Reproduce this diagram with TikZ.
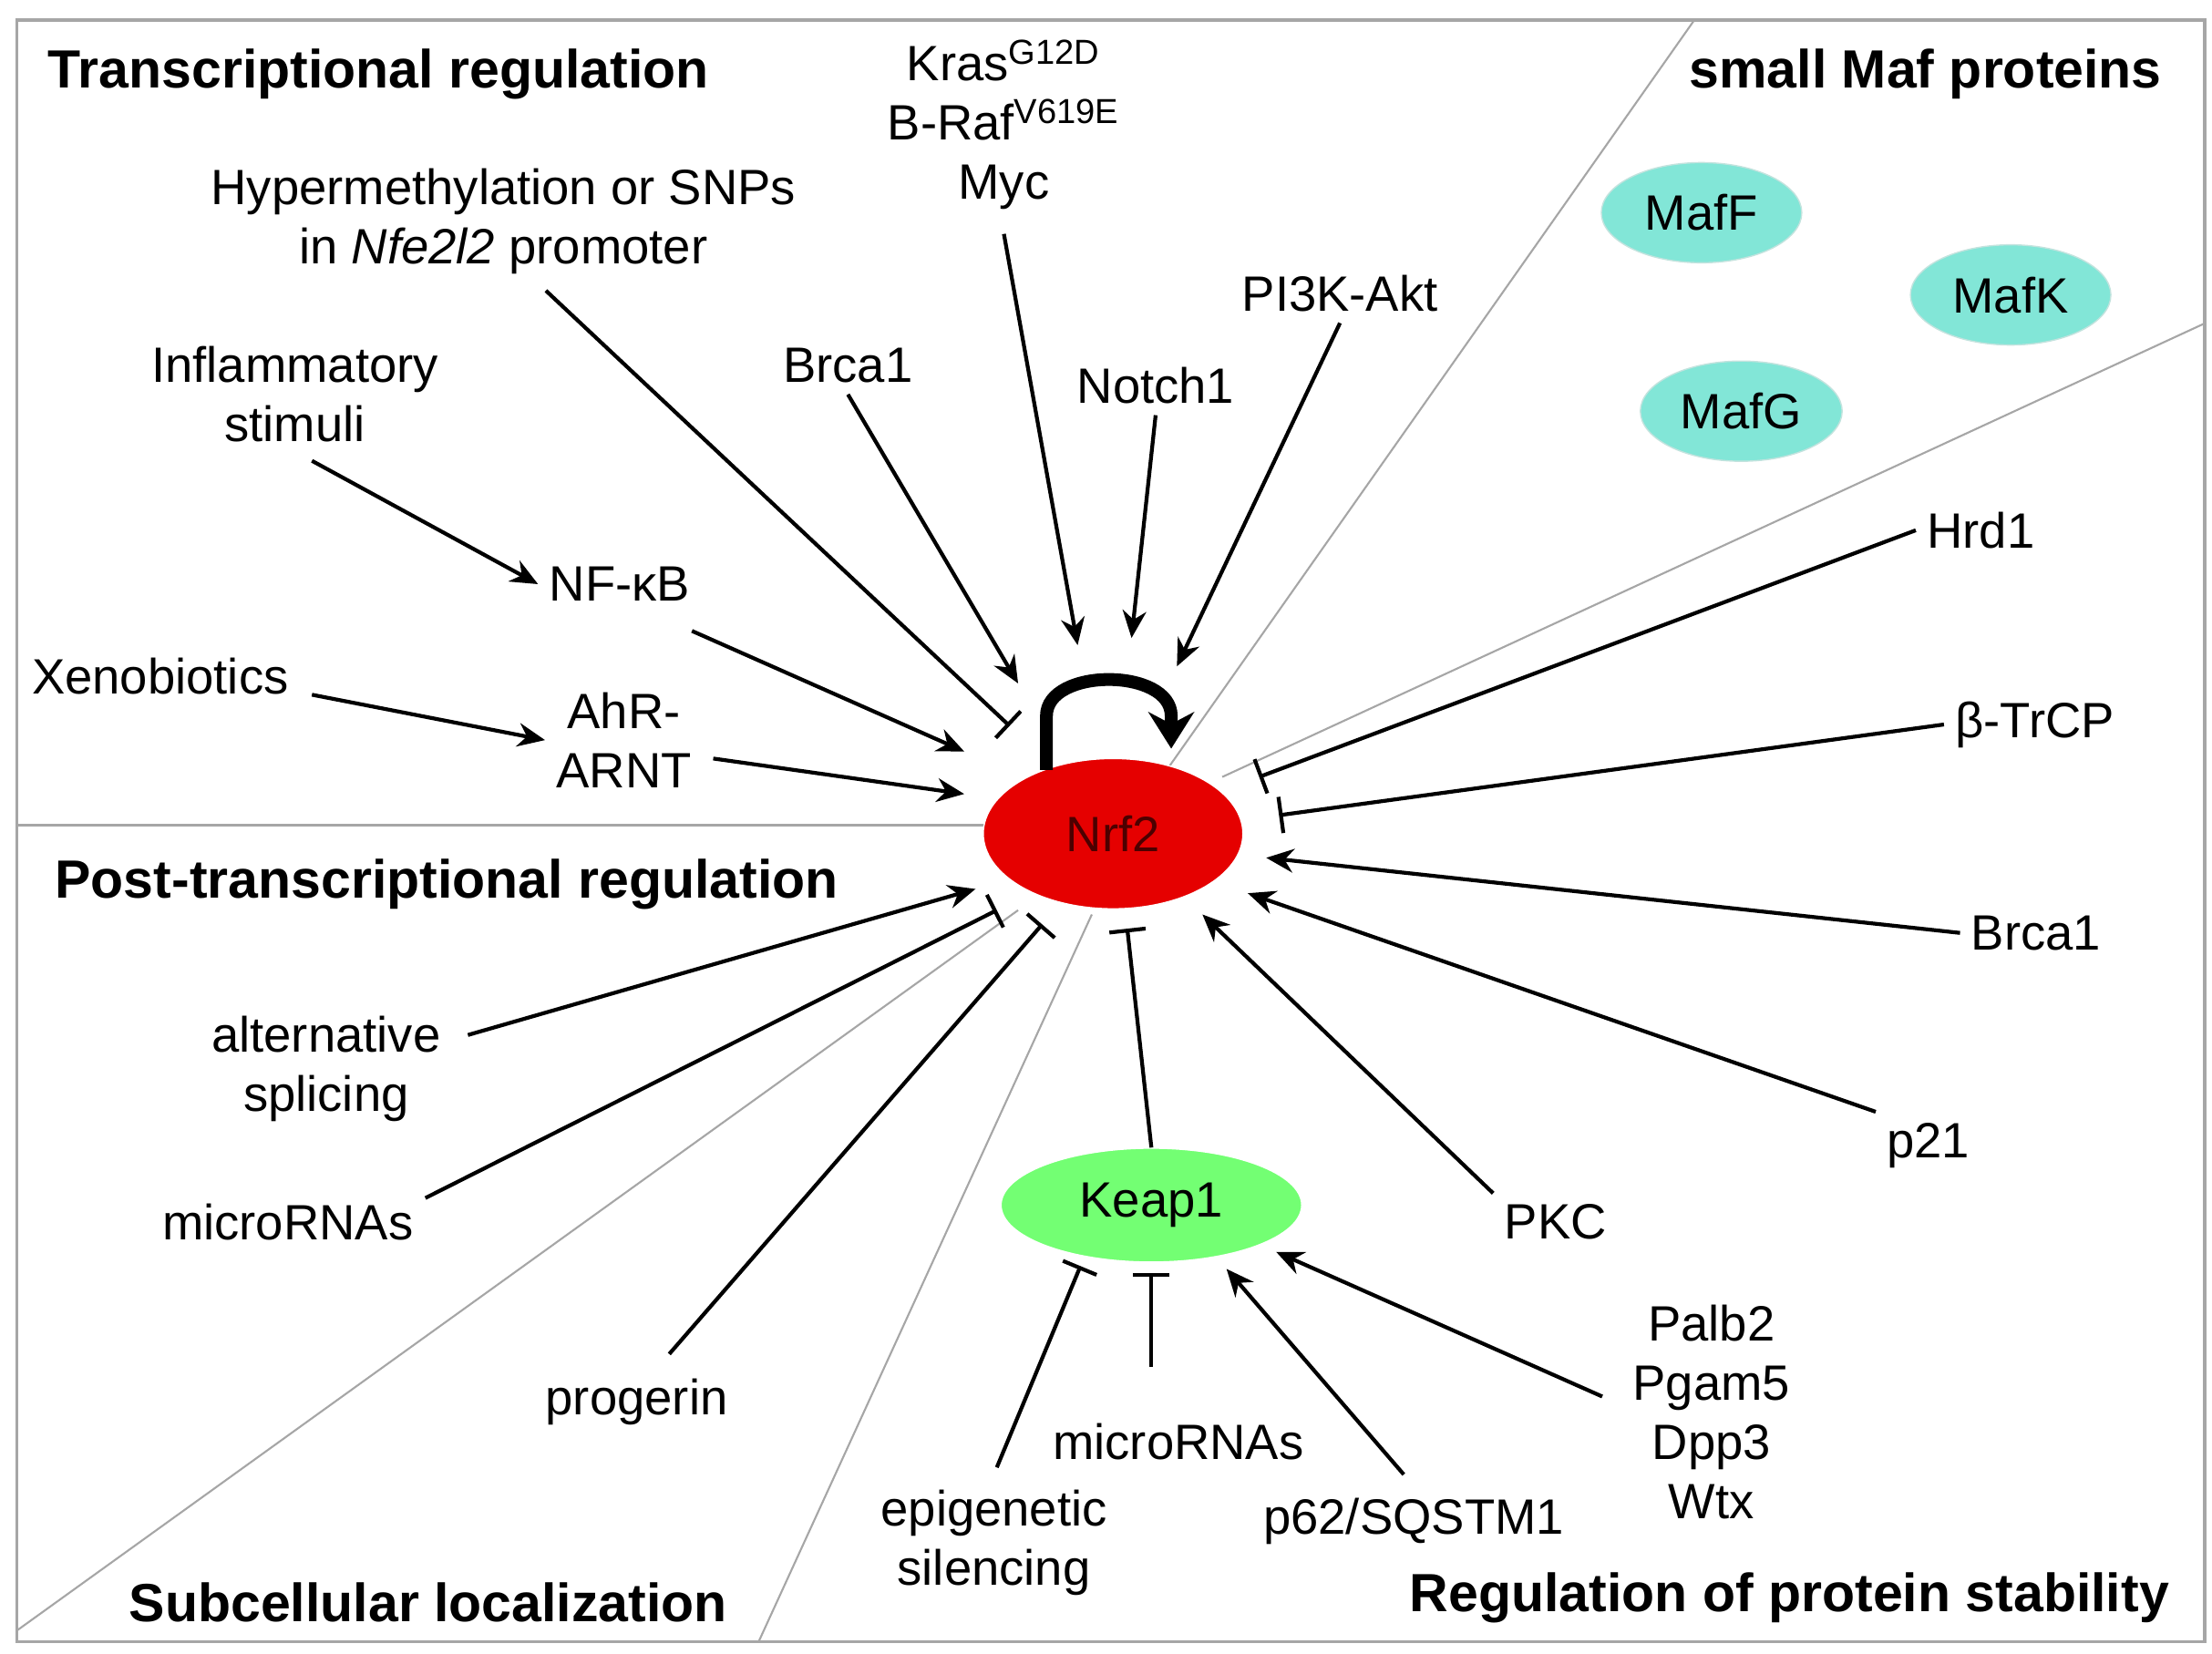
\documentclass[tikz,border=0pt]{standalone}
\usepackage{fontspec}
\setmainfont{Liberation Sans}
\usetikzlibrary{positioning, arrows.meta, shapes.geometric}
\definecolor{mafcol}{RGB}{130,230,215}
\begin{document}
\begin{tikzpicture}[
                x=0.01556cm, y=-0.01556cm,
                every node/.style={font=\fontsize{15.5}{18.5}\selectfont},
                align=center,
                >={Stealth[width=2.6mm,length=3mm]},
                title/.style={font=\fontsize{16.8}{19}\selectfont\bfseries},
                maf/.style={ellipse, fill=mafcol, draw=mafcol!80!black!40, minimum width=2.2cm, minimum height=1.1cm},
                line/.style={draw, ->, line width=1.2pt},
                inhib/.style={draw, -{Bar[width=4mm]}, line width=1.2pt},
                sep/.style={draw=gray!70, line width=0.6pt},
                ]
        \useasboundingbox (0,0) rectangle (1560,1166);
        \draw[gray!70, line width=1pt] (12,14) rectangle (1555,1158);

        % sector borders
        \draw[sep] (12,582) -- (700,582);
        \draw[sep] (1195,14) -- (825,540);
        \draw[sep] (1555,228) -- (862,548);
        \draw[sep] (12,1150) -- (718,642);
        \draw[sep] (535,1158) -- (770,645);

        % central nodes
        \node [ellipse, fill=red!90!black, draw=white, text=red!30!black, minimum width=2.85cm, minimum height=1.65cm] (nrf) at (785,588) {Nrf2};
        \node [ellipse, fill=green!55, draw=white, minimum width=3.3cm, minimum height=1.25cm] (keap) at (812,850) {Keap1};

        % small Maf proteins
        \node [maf] (mafF) at (1200,150) {MafF};
        \node [maf] (mafK) at (1418,208) {MafK};
        \node [maf] (mafG) at (1228,290) {MafG};

        % titles
        \node [title] at (267,52) {Transcriptional regulation};
        \node [title] at (1358,52) {small Maf proteins};
        \node [title] at (315,624) {Post-transcriptional regulation};
        \node [title] at (302,1130) {Subcellular localization};
        \node [title] at (1262,1127) {Regulation of protein stability};

        % labels
        \node (kras) at (708,88) {Kras\textsuperscript{G12D}\\B-Raf\textsuperscript{V619E}\\Myc};
        \node (hyper) at (355,156) {Hypermethylation or SNPs\\in \textit{Nfe2l2} promoter};
        \node (infl) at (208,278) {Inflammatory\\stimuli};
        \node (nfkb) at (437,412) {NF-κB};
        \node (xeno) at (113,477) {Xenobiotics};
        \node (ahr) at (440,522) {AhR-\\ARNT};
        \node (brcaT) at (598,258) {Brca1};
        \node (notch) at (815,272) {Notch1};
        \node (pik) at (945,207) {PI3K-Akt};
        \node (hrd) at (1397,374) {Hrd1};
        \node (trcp) at (1435,511) {β-TrCP};
        \node (brcaR) at (1436,658) {Brca1};
        \node (pcw) at (1360,808) {p21};
        \node (pkc) at (1097,862) {PKC};
        \node (alt) at (230,754) {alternative\\splicing};
        \node (mirL) at (203,862) {microRNAs};
        \node (prog) at (449,989) {progerin};
        \node (epi) at (701,1088) {epigenetic\\silencing};
        \node (mirK) at (831,1017) {microRNAs};
        \node (psq) at (997,1073) {p62/SQSTM1};
        \node (palb) at (1207,996) {Palb2\\Pgam5\\Dpp3\\Wtx};

        % arrows to Nrf2
        \draw[line] (708,165) -- (760,455);
        \draw[inhib] (385,205) -- (712,512);
        \draw[line] (220,325) -- (nfkb.west);
        \draw[line] (488,445) -- (680,530);
        \draw[line] (220,490) -- (ahr.west);
        \draw[line] (503,535) -- (680,560);
        \draw[line] (brcaT.south) -- (718,482);
        \draw[line] (notch.south) -- (798,450);
        \draw[line] (pik.south) -- (830,470);
        \draw[black, line width=4pt, -{Stealth[width=5mm,length=4mm]}] (738,543) -- (738,505) to[out=90,in=90] (826,505) -- (826,528);
        \draw[inhib] (hrd.west) -- (888,548);
        \draw[inhib] (trcp.west) -- (902,575);
        \draw[line] (brcaR.west) -- (893,605);
        \draw[line] (pcw.north west) -- (880,630);
        \draw[line] (pkc.north west) -- (848,645);
        \draw[inhib] (keap.north) -- (795,655);
        \draw[line] (330,730) -- (688,627);
        \draw[inhib] (300,845) -- (703,642);
        \draw[inhib] (472,955) -- (735,652);

        % arrows to Keap1
        \draw[inhib] (703,1035) -- (762,893);
        \draw[inhib] (mirK.north) ++(-19,-32) -- (812,898);
        \draw[line] (990,1040) -- (865,895);
        \draw[line] (1130,985) -- (900,883);
\end{tikzpicture}
\end{document}
